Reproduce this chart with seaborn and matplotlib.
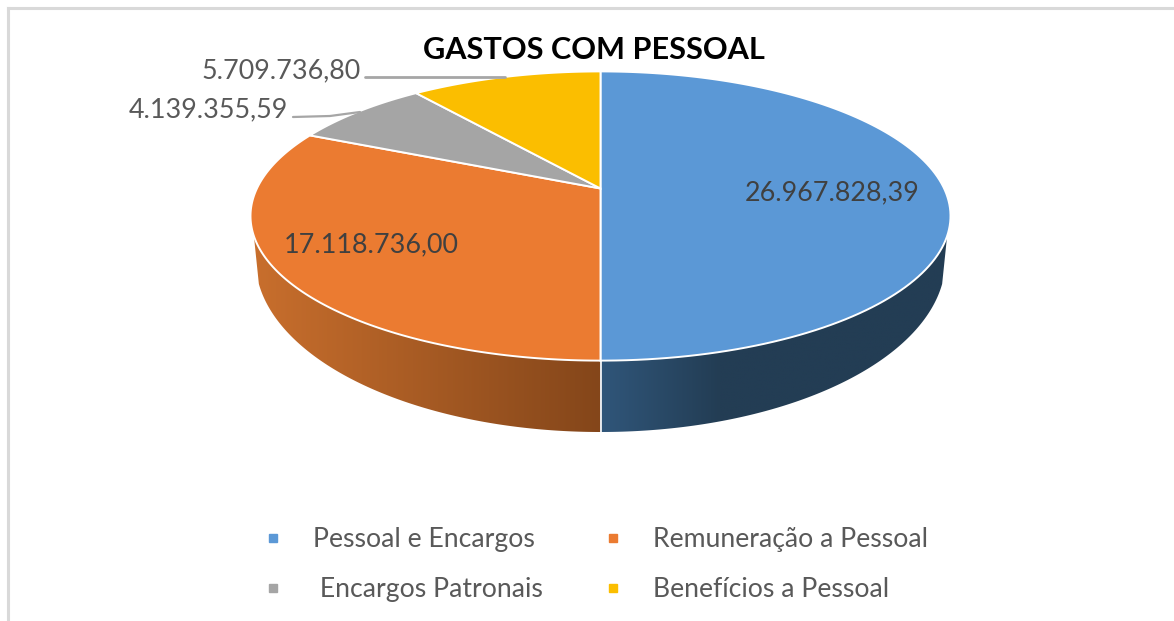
import numpy as np
import matplotlib
matplotlib.use("Agg")
import matplotlib.pyplot as plt
from matplotlib.colors import LinearSegmentedColormap
from matplotlib.lines import Line2D
from matplotlib.patches import Polygon
from matplotlib.path import Path
from matplotlib.transforms import Transform, Affine2D
import seaborn as sns

categories = ["Pessoal e Encargos", "Remuneração a Pessoal", "Encargos Patronais", "Benefícios a Pessoal"]
values = [26967828.39, 17118736.00, 4139355.59, 5709736.80]
value_labels = ["26.967.828,39", "17.118.736,00", "4.139.355,59", "5.709.736,80"]
colors = ["#5B98D6", "#EB7B31", "#A5A5A5", "#FBBE00"]
title = "GASTOS COM PESSOAL"

sns.set_theme(style="white")
plt.rcParams["font.family"] = ["Lato", "DejaVu Sans"]
TXT = "#595959"


class Perspective(Transform):
    """Tilts the unit-circle pie into the perspective view of the reference."""
    input_dims = output_dims = 2
    is_affine = False
    has_inverse = False

    def __init__(self, cx=600.5, cy=188.5, a=343.6, b=-103.49, d=0.1903):
        super().__init__()
        self.p = (cx, cy, a, b, d)

    def transform_non_affine(self, xy):
        cx, cy, a, b, d = self.p
        xy = np.asarray(xy, dtype=float)
        w = 1 + d * xy[:, 1]
        return np.column_stack([cx + a * xy[:, 0] / w, (cy + b * xy[:, 1]) / w])

    def transform_path_non_affine(self, path):
        poly = path.to_polygons(transform=Affine2D().scale(2000), closed_only=True)[0] / 2000
        return Path(self.transform_non_affine(poly), closed=True)


fig = plt.figure(figsize=(11.74, 6.21), dpi=100, facecolor="white")
ax = fig.add_axes([0, 0, 1, 1])

wedges, _ = ax.pie(values, colors=colors, startangle=90, counterclock=False, radius=1,
                   wedgeprops=dict(edgecolor="white", linewidth=1.4, zorder=5))
persp = Perspective()
for w in wedges:
    w.set_transform(persp + ax.transData)
    w.set_clip_on(False)


def wall(t0, t1, cmap_colors, x0, x1):
    t = np.radians(np.linspace(t0, t1, 200))
    top = np.column_stack([600.5 + 350 * np.cos(t), 216 + 144.5 * np.sin(t)])
    bot = np.column_stack([600.5 + 345 * np.cos(t), 260 + 172 * np.sin(t)])
    clip = Polygon(np.vstack([top, bot[::-1]]), closed=True, transform=ax.transData,
                   facecolor="none", edgecolor="none")
    ax.add_patch(clip)
    cmap = LinearSegmentedColormap.from_list("w", cmap_colors)
    im = ax.imshow(np.linspace(0, 1, 256)[None, :], extent=(x0, x1, 440, 200), cmap=cmap,
                   aspect="auto", zorder=2, interpolation="bilinear")
    im.set_clip_path(clip)


wall(172, 90, ["#C96F2D", "#84461A"], 250, 601)
wall(90, 8, ["#30567A", "#233D54", "#233D54", "#233D54"], 600, 960)

ax.set_aspect("auto")
ax.set_xlim(0, 1174)
ax.set_ylim(621, 0)
ax.axis("off")

ax.plot([600.5, 600.5], [361, 432], color="white", lw=1.2, zorder=3)

# frame of the original picture
ax.plot([8, 8], [621, 8], color="#D9D9D9", lw=2.2, zorder=1, solid_capstyle="projecting")
ax.plot([8, 1174], [8, 8], color="#D9D9D9", lw=2.2, zorder=1, solid_capstyle="projecting")

# leader lines
ax.plot([365, 505], [77, 77], color="#A6A6A6", lw=2.0, zorder=6)
ax.plot([293, 330, 360], [117, 116, 112], color="#A6A6A6", lw=1.6, zorder=6)

LS = 19.4
ax.text(832, 193, value_labels[0], ha="center", va="center", fontsize=LS, color="#404040", zorder=7)
ax.text(371, 245, value_labels[1], ha="center", va="center", fontsize=LS, color="#404040", zorder=7)
ax.text(288, 110, value_labels[2], ha="right", va="center", fontsize=LS, color=TXT, zorder=7)
ax.text(361, 71, value_labels[3], ha="right", va="center", fontsize=LS, color=TXT, zorder=7)

ax.text(594, 50, title, ha="center", va="center", fontsize=22.1, fontweight="bold", color="black", zorder=7)

handles = [Line2D([], [], linestyle="none", marker="s", markersize=5.5, color=colors[i], label=lab)
           for i, lab in [(0, categories[0]), (2, " " + categories[2]), (1, categories[1]), (3, categories[3])]]
ax.legend(handles=handles, ncol=2, loc="center", bbox_to_anchor=(594 / 1174, 1 - 564.5 / 621),
          frameon=False, fontsize=19.2, labelcolor=TXT, labelspacing=0.95, columnspacing=2.15,
          handletextpad=1.0, handlelength=1.0)

fig.savefig("out.png", dpi=100, facecolor="white")
